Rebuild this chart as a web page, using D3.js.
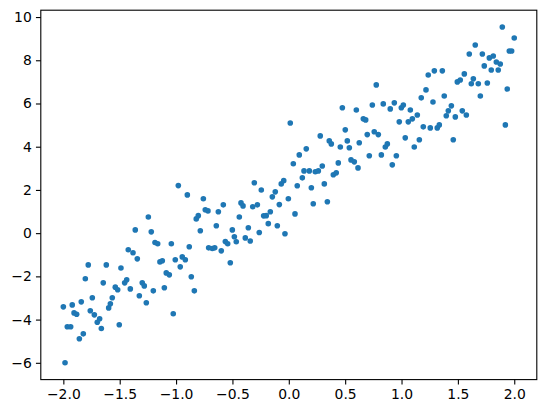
<!DOCTYPE html>
<html>
<head>
<meta charset="utf-8">
<script src="https://cdn.jsdelivr.net/npm/d3@7"></script>
<style>
  html, body { margin: 0; padding: 0; background: #fff; }
  svg { display: block; }
  text { font-family: "DejaVu Sans", sans-serif; }
</style>
</head>
<body>
<div id="chart"></div>
<script>
// x values
const xValues = [
  -2.000,-1.985,-1.965,-1.935,-1.921,-1.905,-1.882,-1.858,-1.841,-1.823,
  -1.805,-1.779,-1.761,-1.743,-1.725,-1.699,-1.678,-1.663,-1.646,-1.619,
  -1.598,-1.583,-1.566,-1.539,-1.518,-1.504,-1.489,-1.456,-1.438,-1.424,
  -1.406,-1.382,-1.362,-1.344,-1.326,-1.300,-1.282,-1.264,-1.246,-1.220,
  -1.202,-1.187,-1.163,-1.143,-1.122,-1.104,-1.087,-1.060,-1.042,-1.025,
  -1.007,-0.980,-0.963,-0.945,-0.918,-0.900,-0.883,-0.865,-0.838,-0.821,
  -0.803,-0.785,-0.758,-0.741,-0.717,-0.711,-0.679,-0.657,-0.643,-0.625,
  -0.599,-0.581,-0.563,-0.542,-0.519,-0.501,-0.483,-0.466,-0.439,-0.424,
  -0.406,-0.386,-0.359,-0.342,-0.320,-0.306,-0.279,-0.262,-0.244,-0.223,
  -0.200,-0.182,-0.164,-0.146,-0.120,-0.102,-0.084,-0.067,-0.045,-0.034,
  -0.004,0.013,0.040,0.055,0.075,0.093,0.120,0.135,0.155,0.182,
  0.200,0.217,0.235,0.262,0.279,0.297,0.315,0.342,0.359,0.377,
  0.395,0.421,0.439,0.457,0.475,0.501,0.519,0.537,0.552,0.581,
  0.599,0.614,0.625,0.661,0.682,0.696,0.714,0.741,0.758,0.776,
  0.794,0.821,0.838,0.856,0.874,0.900,0.918,0.936,0.954,0.980,
  0.998,1.016,1.033,1.060,1.078,1.096,1.113,1.140,1.158,1.175,
  1.193,1.217,1.237,1.255,1.279,1.291,1.317,1.335,1.362,1.379,
  1.397,1.415,1.442,1.459,1.477,1.495,1.521,1.539,1.557,1.575,
  1.601,1.619,1.637,1.654,1.681,1.699,1.717,1.734,1.761,1.779,
  1.796,1.814,1.841,1.858,1.876,1.894,1.921,1.938,1.956,1.977,
  2.000
];
// y values
const yValues = [
  -3.41,-6.00,-4.33,-4.33,-3.32,-3.69,-3.75,-4.89,-3.18,-4.66,
  -2.11,-1.47,-3.59,-2.99,-3.78,-4.12,-3.96,-4.41,-2.30,-1.47,
  -3.46,-3.27,-2.99,-2.50,-2.62,-4.24,-1.61,-2.30,-2.16,-0.77,
  -2.58,-0.91,0.15,-1.19,-2.90,-2.30,-2.44,-3.22,0.75,0.06,
  -2.67,-0.43,-0.49,-1.33,-1.28,-2.53,-1.84,-1.93,-0.49,-3.73,
  -1.23,2.20,-1.56,-1.10,-1.23,1.77,-0.63,-2.02,-2.67,0.66,
  0.81,0.11,1.59,1.08,1.03,-0.68,-0.71,-0.68,0.34,0.99,
  -0.82,1.31,-0.39,-0.49,-1.37,0.15,-0.17,-0.40,0.75,1.40,
  1.26,-0.22,0.25,-0.36,1.22,2.33,1.31,0.03,2.00,0.80,
  0.81,0.44,0.99,1.68,1.91,0.34,1.32,2.28,2.43,-0.03,
  1.59,5.10,3.21,0.89,2.19,3.62,2.56,2.88,3.90,2.88,
  2.10,1.36,2.84,2.88,4.50,3.11,2.28,1.45,4.27,4.13,
  2.70,2.79,3.25,3.99,5.80,4.78,4.27,3.95,3.39,3.30,
  5.70,3.02,4.18,5.29,5.24,4.56,3.58,5.93,4.69,6.86,
  4.56,3.62,5.98,3.99,4.13,5.75,3.16,6.03,3.58,5.15,
  5.80,5.93,4.41,5.15,5.70,5.29,3.99,5.47,4.32,6.26,
  4.92,6.63,7.32,4.87,6.07,7.51,4.87,5.01,7.51,6.35,
  5.43,5.66,5.89,4.32,5.38,7.00,7.09,5.66,7.37,5.47,
  8.29,6.91,7.14,8.71,6.91,6.35,8.29,7.74,6.95,8.11,
  7.55,8.20,7.92,7.55,7.83,9.54,5.01,6.67,8.43,8.43,
  9.03
];
const xTicks = [-2.0, -1.5, -1.0, -0.5, 0.0, 0.5, 1.0, 1.5, 2.0];
const yTicks = [-6, -4, -2, 0, 2, 4, 6, 8, 10];

const W = 546, H = 413;
const marginLeft = 40.8, marginTop = 10.2, plotW = 496, plotH = 369.4;
const pointColor = "#1f77b4";

const points = xValues.map((x, i) => ({ x: x, y: yValues[i] }));

function padded(ext) {
  const m = (ext[1] - ext[0]) * 0.05;
  return [ext[0] - m, ext[1] + m];
}

const xScale = d3.scaleLinear().domain(padded(d3.extent(xValues))).range([0, plotW]);
const yScale = d3.scaleLinear().domain(padded(d3.extent(yValues))).range([plotH, 0]);

const svg = d3.select("#chart").append("svg")
  .attr("width", W).attr("height", H);

const g = svg.append("g").attr("transform", `translate(${marginLeft},${marginTop})`);

g.append("g").selectAll("circle")
  .data(points)
  .join("circle")
  .attr("cx", d => xScale(d.x))
  .attr("cy", d => yScale(d.y))
  .attr("r", 2.8)
  .attr("fill", pointColor);

const tickLen = 4.86, tickPad = 4.2;
const fmtX = d3.format(".1f");

const xAxis = g.append("g")
  .attr("transform", `translate(0,${plotH})`)
  .call(d3.axisBottom(xScale).tickValues(xTicks).tickFormat(fmtX)
        .tickSize(tickLen).tickSizeOuter(0).tickPadding(tickPad));

const yAxis = g.append("g")
  .call(d3.axisLeft(yScale).tickValues(yTicks).tickFormat(d3.format("d"))
        .tickSize(tickLen).tickSizeOuter(0).tickPadding(tickPad));

[xAxis, yAxis].forEach(a => {
  a.select(".domain").remove();
  a.selectAll(".tick line").attr("stroke", "#000").attr("stroke-width", 1.1);
  a.selectAll(".tick text")
    .attr("fill", "#000")
    .style("font-family", "'DejaVu Sans', sans-serif")
    .style("font-size", "13.9px");
});

g.append("rect")
  .attr("x", 0).attr("y", 0)
  .attr("width", plotW).attr("height", plotH)
  .attr("fill", "none")
  .attr("stroke", "#000")
  .attr("stroke-width", 1.1);
</script>
</body>
</html>
